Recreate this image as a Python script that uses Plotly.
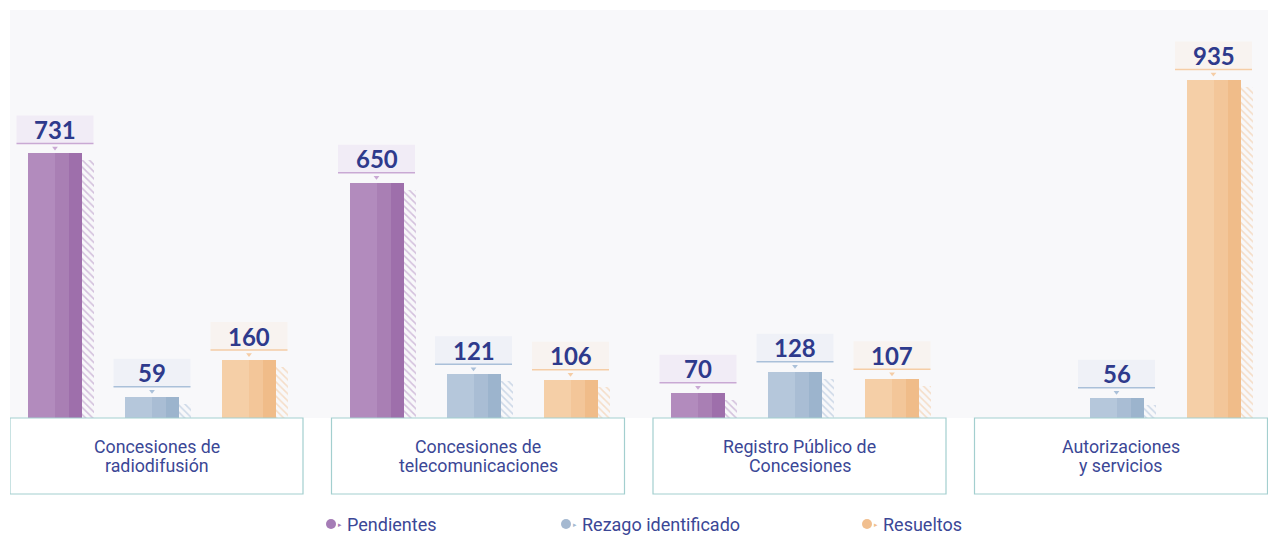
import plotly.graph_objects as go

categories = ["Concesiones de<br>radiodifusión", "Concesiones de<br>telecomunicaciones",
              "Registro Público de<br>Concesiones", "Autorizaciones<br>y servicios"]
series_names = ["Pendientes", "Rezago identificado", "Resueltos"]
pendientes = [731, 650, 70, None]
rezago = [59, 121, 128, 56]
resueltos = [160, 106, 107, 935]
series_values = [pendientes, rezago, resueltos]

stripe_colors = [["#b28bbd", "#a97fb4", "#9e6fab"],
                 ["#b5c7db", "#a9bdd4", "#9cb4cd"],
                 ["#f5cfa7", "#f3c699", "#f0bc89"]]
hatch_colors = ["#b08ac0", "#a3bad6", "#f2c396"]
tint_colors = ["#f1ecf6", "#eff1f7", "#f8f3f0"]
line_colors = ["#c9a9d4", "#aac0d9", "#f5cda6"]
legend_colors = ["#a57cb6", "#a5b9d1", "#f1bf8f"]
text_color = "#2e3a8c"
cat_color = "#3b4796"

W, H = 1268, 536
PX_PER_UNIT = 0.362
Y_TOP = 408 / PX_PER_UNIT
G0, PITCH, SLOT = 156.5, 321.5, 97
BASE_PAPER = (H - 418) / H

fig = go.Figure()
shapes = []
annotations = []

for s, vals in enumerate(series_values):
    xs = [[], [], [], []]
    ws = [[], [], [], []]
    ys = [[], [], [], []]
    tri_x, tri_y = [], []
    for g, v in enumerate(vals):
        if v is None:
            continue
        gc = G0 + g * PITCH
        bc = gc + (s - 1) * SLOT - 4.5
        bl = bc - 27
        parts = [(bl, 27), (bl + 27, 14), (bl + 41, 13), (bl + 54, 12)]
        for i, (x0, w) in enumerate(parts):
            xs[i].append(x0 + w / 2)
            ws[i].append(w)
            ys[i].append(v if i < 3 else max(v - 7 / PX_PER_UNIT, 0))
        # label box
        yb = v + 10 / PX_PER_UNIT
        yt = yb + 28 / PX_PER_UNIT
        shapes.append(dict(type="rect", xref="x", yref="y", x0=bc - 38.5, x1=bc + 38.5,
                           y0=yb, y1=yt, fillcolor=tint_colors[s], line=dict(width=0), layer="above"))
        shapes.append(dict(type="line", xref="x", yref="y", x0=bc - 38.5, x1=bc + 38.5,
                           y0=yb, y1=yb, line=dict(color=line_colors[s], width=1.5), layer="above"))
        tri_x.append(bc)
        tri_y.append(v + 5.5 / PX_PER_UNIT)
        annotations.append(dict(x=bc, y=(yb + yt) / 2, xref="x", yref="y", text=f"<b>{v}</b>",
                                showarrow=False,
                                font=dict(family="Lato", size=24, color=text_color, weight=900),
                                yanchor="middle"))
    for i in range(3):
        fig.add_trace(go.Bar(x=xs[i], y=ys[i], width=ws[i], marker=dict(color=stripe_colors[s][i], line=dict(width=0)),
                             showlegend=False, hoverinfo="skip"))
    fig.add_trace(go.Bar(x=xs[3], y=ys[3], width=ws[3],
                         marker=dict(color="rgba(0,0,0,0)", line=dict(width=0),
                                     pattern=dict(shape="\\", fgcolor=hatch_colors[s], bgcolor="rgba(0,0,0,0)",
                                                  size=5, solidity=0.32, fillmode="overlay")),
                         showlegend=False, hoverinfo="skip"))
    fig.add_trace(go.Scatter(x=tri_x, y=tri_y, mode="markers",
                             marker=dict(symbol="triangle-down", size=5, color=line_colors[s]),
                             showlegend=False, hoverinfo="skip", cliponaxis=False))

# category boxes
line_y = [446, 465]
for g, cat in enumerate(categories):
    gc = G0 + g * PITCH
    shapes.append(dict(type="rect", xref="x", yref="paper", x0=gc - 146.5, x1=gc + 146.5,
                       y0=(H - 494) / H, y1=BASE_PAPER, fillcolor="white",
                       line=dict(color="#a3cfcf", width=1.2), layer="above"))
    for li, part in enumerate(cat.split("<br>")):
        annotations.append(dict(x=gc, y=(H - line_y[li]) / H, xref="x", yref="paper", text=part,
                                showarrow=False,
                                font=dict(family="Roboto", size=17.8, color=cat_color), yanchor="middle"))

# legend
legend_x = [331, 566, 867]
for s, name in enumerate(series_names):
    cx = legend_x[s]
    cy = H - 524
    shapes.append(dict(type="circle", xref="paper", yref="paper",
                       x0=(cx - 5) / W, x1=(cx + 5) / W, y0=(cy - 5) / H, y1=(cy + 5) / H,
                       fillcolor=legend_colors[s], line=dict(width=0)))
    annotations.append(dict(x=(cx + 9) / W, y=cy / H, xref="paper", yref="paper", text="▸",
                            showarrow=False, font=dict(size=7, color=legend_colors[s]),
                            xanchor="center", yanchor="middle"))
    annotations.append(dict(x=(cx + 14) / W, y=cy / H, xref="paper", yref="paper", text=name,
                            showarrow=False, font=dict(family="Roboto", size=18, color=cat_color),
                            xanchor="left", yanchor="middle"))

fig.update_layout(
    width=W, height=H, margin=dict(l=0, r=0, t=0, b=0),
    paper_bgcolor="white", plot_bgcolor="#f8f8fa",
    barmode="overlay", bargap=0,
    xaxis=dict(domain=[10 / W, 1], range=[10, W], showgrid=False, zeroline=False,
               showticklabels=False, fixedrange=True),
    yaxis=dict(domain=[BASE_PAPER, (H - 10) / H], range=[0, Y_TOP], showgrid=False, zeroline=False,
               showticklabels=False, fixedrange=True),
    shapes=shapes, annotations=annotations, showlegend=False,
)
fig.write_html("out.html", config={"displayModeBar": False},
               post_script="document.body.style.margin='0px';")
